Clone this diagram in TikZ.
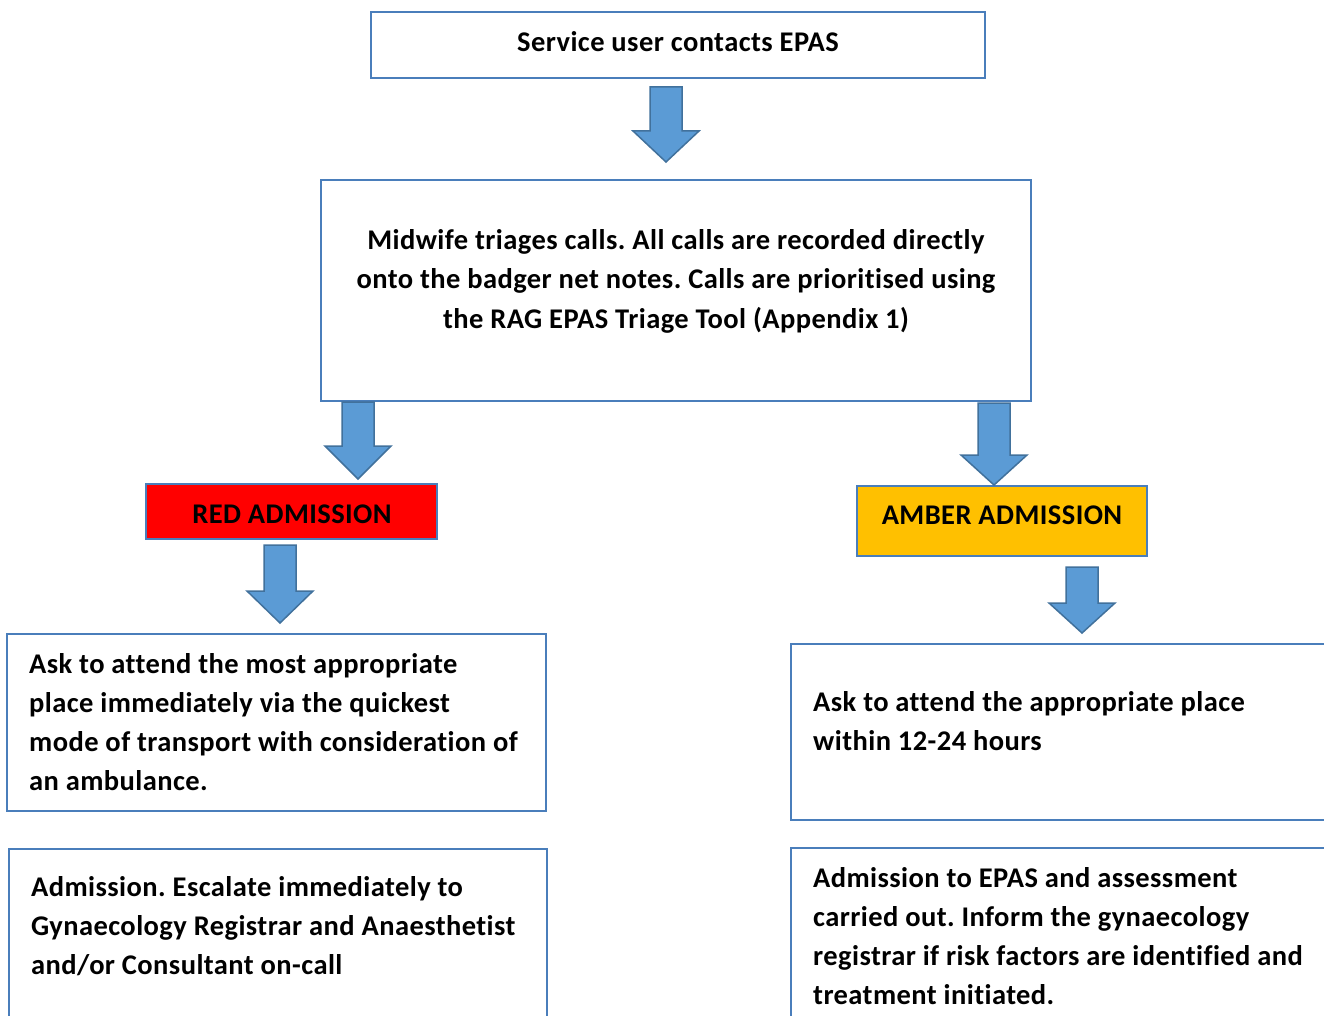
\documentclass[tikz,border=0pt]{standalone}
\usepackage{fontspec}
\setmainfont{Carlito}[Ligatures={NoCommon}, LetterSpace=1.5]
\frenchspacing
\definecolor{boxblue}{HTML}{4A7EBB}
\definecolor{arrfill}{HTML}{5B9BD5}
\definecolor{arredge}{HTML}{41719C}
\definecolor{redfill}{HTML}{FF0000}
\definecolor{amberfill}{HTML}{FFC000}
\newcommand{\blockdown}[4]{% x centre, top, head start, tip
  \draw[blockarrow] (#1-16,#2) -- (#1+16,#2) -- (#1+16,#3) -- (#1+33,#3) -- (#1,#4)
    -- (#1-33,#3) -- (#1-16,#3) -- cycle;}
\begin{document}
\begin{tikzpicture}[x=1pt,y=-1pt,
  box/.style={draw=boxblue,line width=2pt,inner sep=0pt,fill=white},
  blockarrow/.style={draw=arredge,fill=arrfill,line width=1.5pt,line join=miter},
  txt/.style={inner sep=0pt,font=\fontsize{28.5}{39}\selectfont\bfseries},
]
\clip (0,0) rectangle (1324,1016);
\fill[white] (0,0) rectangle (1324,1016);
% boxes
\node[box,minimum width=614pt,minimum height=66pt] (top) at (678,45) {};
\node[box,minimum width=710pt,minimum height=221pt] (mid) at (676,290.5) {};
\node[box,fill=redfill,minimum width=291pt,minimum height=55pt] (red) at (291.5,511.5) {};
\node[box,fill=amberfill,minimum width=290pt,minimum height=70pt] (amber) at (1002,521) {};
\node[box,minimum width=539pt,minimum height=177pt] (lask) at (276.5,722.5) {};
\node[box,minimum width=538pt,minimum height=190pt] (ladm) at (278,944) {};
\node[box,minimum width=560pt,minimum height=176pt] (rask) at (1071,732) {};
\node[box,minimum width=560pt,minimum height=190pt] (radm) at (1071,943) {};
% arrows
\blockdown{666}{87}{131}{162}
\blockdown{358}{402}{446}{479}
\blockdown{994}{403}{455}{485}
\blockdown{280}{545}{591}{623}
\blockdown{1082}{567}{603}{633}
% texts
\node[txt,anchor=base] (ttop) at (678,52) {Service user contacts EPAS};
\node[txt,anchor=base] (tmid) at (676,250) {\parbox[t]{700pt}{\centering\baselineskip=39pt
Midwife triages calls. All calls are recorded directly\\
onto the badger net notes. Calls are prioritised using\\
the RAG EPAS Triage Tool (Appendix 1)}};
\node[txt,anchor=base] (tred) at (292,523) {RED ADMISSION};
\node[txt,anchor=base] (tamber) at (1002,524) {AMBER ADMISSION};
\node[txt,anchor=base west] (tlask) at (29,673) {\parbox[t]{520pt}{\raggedright\baselineskip=39pt
Ask to attend the most appropriate\\
place immediately via the quickest\\
mode of transport with consideration of\\
an ambulance.}};
\node[txt,anchor=base west] (tladm) at (31,896) {\parbox[t]{520pt}{\raggedright\baselineskip=39pt
Admission. Escalate immediately to\\
Gynaecology Registrar and Anaesthetist\\
and/or Consultant on-call}};
\node[txt,anchor=base west] (trask) at (813,711) {\parbox[t]{520pt}{\raggedright\baselineskip=39pt
Ask to attend the appropriate place\\
within 12-24 hours}};
\node[txt,anchor=base west] (tradm) at (813,887) {\parbox[t]{520pt}{\raggedright\baselineskip=39pt
Admission to EPAS and assessment\\
carried out. Inform the gynaecology\\
registrar if risk factors are identified and\\
treatment initiated.}};
\end{tikzpicture}
\end{document}
